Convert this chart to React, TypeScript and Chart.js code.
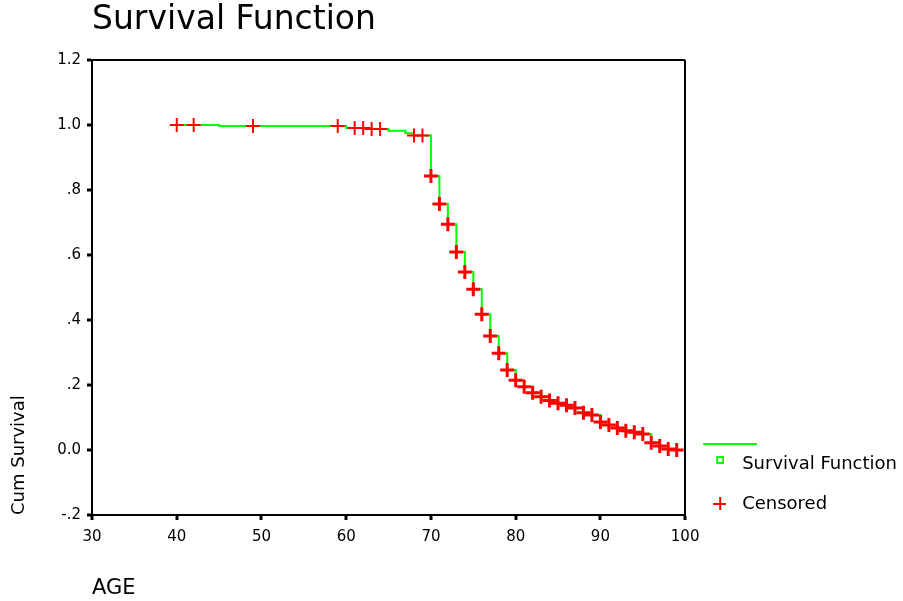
import React, { useEffect, useRef } from 'react';
import { Chart, registerables } from 'chart.js';

Chart.register(...registerables);

// ---- data ----
const survAge = [40, 45, 60, 63, 65, 67, 68, 70, 71, 72, 73, 74, 75, 76, 77, 78, 79, 80, 81, 82, 83, 84, 85, 86, 87, 88, 89, 90, 91, 92, 93, 94, 95, 96, 97, 98, 99];
const survValue = [1.0, 0.997, 0.991, 0.988, 0.982, 0.975, 0.968, 0.843, 0.757, 0.695, 0.609, 0.548, 0.495, 0.418, 0.351, 0.298, 0.246, 0.215, 0.195, 0.176, 0.164, 0.152, 0.144, 0.138, 0.129, 0.115, 0.108, 0.086, 0.077, 0.068, 0.059, 0.055, 0.049, 0.022, 0.012, 0.003, 0.0];

const censAge = [40, 42, 49, 59, 61, 62, 63, 64, 68, 69, 70, 71, 72, 73, 74, 75, 76, 77, 78, 79, 80, 81, 82, 83, 84, 85, 86, 87, 88, 89, 90, 91, 92, 93, 94, 95, 96, 97, 98, 99];
const censValue = [1.0, 1.0, 0.997, 0.997, 0.991, 0.991, 0.988, 0.988, 0.968, 0.968, 0.843, 0.757, 0.695, 0.609, 0.548, 0.495, 0.418, 0.351, 0.298, 0.246, 0.215, 0.195, 0.176, 0.164, 0.152, 0.144, 0.138, 0.129, 0.115, 0.108, 0.086, 0.077, 0.068, 0.059, 0.055, 0.049, 0.022, 0.012, 0.003, 0.0];

const yTickLabels = ['-.2', '0.0', '.2', '.4', '.6', '.8', '1.0', '1.2'];
const xTickLabels = ['30', '40', '50', '60', '70', '80', '90', '100'];

const GREEN = '#00ff00';
const RED = '#ff0000';
const FONT = 'DejaVu Sans';

export default function App() {
  const ref = useRef<HTMLCanvasElement>(null);

  useEffect(() => {
    const canvas = ref.current!;
    const mk = (w: number, h: number, draw: (g: CanvasRenderingContext2D) => void) => {
      const c = document.createElement('canvas');
      c.width = w;
      c.height = h;
      const g = c.getContext('2d')!;
      draw(g);
      return c;
    };
    const lineImg = mk(94, 4, (g) => { g.fillStyle = GREEN; g.fillRect(40, 1, 54, 2); });
    const squareImg = mk(28, 16, (g) => { g.strokeStyle = GREEN; g.lineWidth = 2; g.strokeRect(21, 1, 6, 6); });
    const crossImg = mk(32, 14, (g) => { g.fillStyle = RED; g.fillRect(19, 6, 13, 2); g.fillRect(25, 0, 2, 13); });
    const blankImg = mk(1, 1, () => {});

    const legendItem = (text: string, img: HTMLCanvasElement) => ({
      text,
      pointStyle: img,
      fillStyle: 'rgba(0,0,0,0)',
      strokeStyle: 'rgba(0,0,0,0)',
      lineWidth: 0,
      hidden: false,
      fontColor: '#000',
    });

    const chart = new Chart(canvas, {
      type: 'scatter',
      data: {
        datasets: [
          {
            label: 'Survival Function',
            data: survAge.map((x, i) => ({ x, y: survValue[i] })),
            showLine: true,
            stepped: 'before',
            borderColor: GREEN,
            backgroundColor: GREEN,
            borderWidth: 2,
            pointRadius: 0,
            order: 1,
          },
          {
            label: 'Censored',
            data: censAge.map((x, i) => ({ x, y: censValue[i] })),
            showLine: false,
            pointStyle: 'cross',
            pointRadius: 7,
            borderColor: RED,
            backgroundColor: RED,
            pointBorderColor: RED,
            pointBorderWidth: (c: any) => (c.raw && c.raw.y > 0.9 ? 2 : 3),
            order: 0,
          },
        ],
      },
      options: {
        responsive: false,
        animation: false,
        devicePixelRatio: 1,
        events: [],
        layout: { padding: { left: 0, right: -4, top: 0, bottom: 0 } },
        plugins: {
          title: {
            display: true,
            text: 'Survival Function',
            align: 'start',
            fullSize: false,
            color: '#000',
            font: { family: FONT, size: 33, weight: 'normal' },
            padding: { top: 1, bottom: 19.4 },
          },
          legend: {
            position: 'right',
            align: 'end',
            fullSize: false,
            labels: {
              usePointStyle: true,
              pointStyleWidth: 46,
              padding: 2,
              color: '#000',
              font: { family: FONT, size: 18 },
              generateLabels: () => [
                legendItem('', lineImg),
                legendItem('Survival Function', squareImg),
                legendItem('', blankImg),
                legendItem('Censored', crossImg),
              ] as any,
            },
          },
          tooltip: { enabled: false },
        },
        scales: {
          x: {
            type: 'linear',
            position: 'bottom',
            min: 30,
            max: 100,
            ticks: {
              stepSize: 10,
              autoSkip: false,
              maxRotation: 0,
              color: '#000',
              padding: 8,
              font: { family: FONT, size: 15 },
              callback: (_v: any, i: number) => xTickLabels[i],
            },
            grid: {
              drawOnChartArea: true,
              drawTicks: true,
              color: (c: any) => (c.tick && c.tick.value >= 99.9 ? '#000' : 'rgba(0,0,0,0)'),
              lineWidth: 2,
              tickLength: 5,
              tickWidth: 3,
              tickColor: '#000',
            },
            border: { display: true, color: '#000', width: 2 },
            title: {
              display: true,
              text: 'AGE',
              align: 'start',
              color: '#000',
              font: { family: FONT, size: 21 },
              padding: { top: 0, bottom: 0 },
            },
            afterFit: (s: any) => { s.height = 86; },
          },
          y: {
            type: 'linear',
            position: 'left',
            min: -0.2,
            max: 1.2,
            ticks: {
              stepSize: 0.2,
              autoSkip: false,
              color: '#000',
              padding: 6,
              font: { family: FONT, size: 15 },
              callback: (_v: any, i: number) => yTickLabels[i],
            },
            grid: {
              drawOnChartArea: true,
              drawTicks: true,
              color: (c: any) => (c.tick && c.tick.value >= 1.19 ? '#000' : 'rgba(0,0,0,0)'),
              lineWidth: 2,
              tickLength: 5,
              tickWidth: 3,
              tickColor: '#000',
            },
            border: { display: true, color: '#000', width: 2 },
            title: {
              display: true,
              text: 'Cum Survival',
              align: 'start',
              color: '#000',
              font: { family: FONT, size: 18 },
              padding: { top: 9, bottom: 0 },
            },
            afterFit: (s: any) => { s.width = 92; },
          },
        },
      } as any,
    });
    return () => chart.destroy();
  }, []);

  return (
    <div style={{ position: 'absolute', left: 0, top: 0, width: 903, height: 601, background: '#fff' }}>
      <canvas ref={ref} width={903} height={601} style={{ display: 'block' }} />
    </div>
  );
}
